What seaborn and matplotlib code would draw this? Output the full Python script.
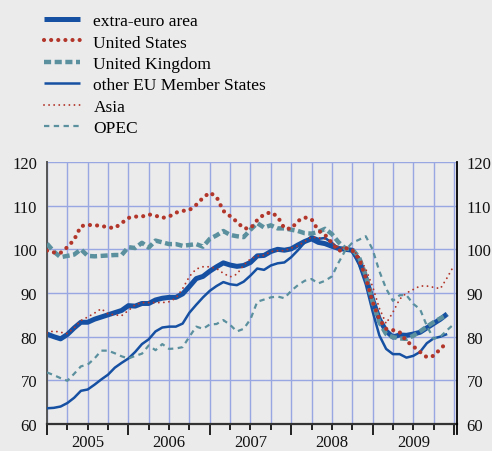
import matplotlib
matplotlib.use("Agg")
import matplotlib.pyplot as plt
import matplotlib.transforms as mtransforms
from matplotlib.ticker import MultipleLocator
import numpy as np
import pandas as pd
import seaborn as sns

# monthly index values, Jan 2005 onwards
extra_euro = [80.6, 80.0, 79.5, 80.5, 82.0, 83.3, 83.3, 84.0, 84.5, 85.0, 85.5, 86.0,
              87.1, 87.0, 87.6, 87.6, 88.4, 88.8, 89.0, 89.0, 89.8, 91.5, 93.3, 93.8,
              95.0, 96.0, 96.9, 96.4, 96.1, 96.3, 97.0, 98.5, 98.6, 99.5, 100.0, 99.8,
              100.1, 101.0, 101.8, 102.4, 101.6, 101.3, 100.7, 100.2, 100.0, 99.8, 97.5, 93.5,
              88.5, 84.0, 81.3, 79.9, 80.4, 80.3, 80.6, 81.0, 82.0, 83.0, 84.0, 85.2]
united_states = [99.7, 99.3, 99.2, 100.5, 102.2, 105.3, 105.6, 105.5, 105.4, 105.0, 104.9, 106.0,
                 107.2, 107.5, 107.5, 108.0, 107.7, 107.2, 107.5, 108.4, 108.8, 109.0, 110.2, 111.8,
                 113.0, 112.0, 108.8, 107.6, 106.3, 104.8, 104.8, 106.7, 108.0, 108.5, 107.5, 104.8,
                 104.7, 106.5, 107.3, 106.9, 104.3, 103.3, 101.5, 99.6, 100.3, 99.8, 97.8, 93.5,
                 88.0, 84.0, 81.8, 81.5, 81.0, 79.0, 77.8, 76.5, 75.3, 75.6, 77.2, 78.7]
united_kingdom = [101.3, 99.5, 98.2, 98.5, 98.8, 100.0, 98.5, 98.4, 98.5, 98.6, 98.7, 98.7,
                  100.5, 100.3, 101.5, 100.4, 102.0, 101.6, 101.2, 101.2, 100.8, 101.0, 101.2, 100.6,
                  102.4, 103.2, 104.2, 103.3, 103.0, 102.8, 104.5, 106.0, 105.0, 105.5, 104.8, 104.8,
                  104.5, 104.2, 103.7, 103.6, 104.0, 104.7, 103.5, 101.6, 100.2, 100.0, 98.2, 94.0,
                  88.0, 83.3, 80.6, 79.9, 79.6, 79.5, 80.2, 81.2, 82.3, 83.3, 84.2, 85.0]
other_eu = [63.6, 63.7, 64.0, 64.8, 66.0, 67.6, 67.9, 69.0, 70.2, 71.3, 72.9, 74.0,
            75.0, 76.5, 78.3, 79.4, 81.2, 82.1, 82.3, 82.3, 83.0, 85.5, 87.3, 89.0,
            90.5, 91.6, 92.5, 92.0, 91.8, 92.6, 94.0, 95.6, 95.3, 96.3, 96.8, 97.0,
            98.2, 99.8, 101.6, 103.0, 102.4, 102.6, 101.5, 100.1, 100.0, 99.5, 96.5, 92.0,
            85.8, 80.3, 77.2, 76.0, 76.0, 75.2, 75.6, 76.5, 78.5, 79.6, 80.0, 80.6]
asia = [80.9, 81.3, 81.0, 80.7, 82.0, 83.7, 84.5, 85.4, 86.4, 85.2, 85.0, 84.8,
        86.0, 87.3, 87.8, 87.8, 87.8, 87.8, 88.0, 88.8, 91.0, 93.8, 95.5, 96.0,
        96.0, 95.6, 94.5, 93.7, 94.3, 96.4, 97.8, 98.5, 98.6, 99.5, 99.7, 99.7,
        100.3, 100.8, 101.8, 102.8, 102.6, 102.4, 101.5, 100.5, 100.2, 100.1, 98.3, 95.5,
        91.5, 86.5, 83.0, 85.6, 88.6, 90.0, 90.8, 91.6, 91.6, 91.3, 91.0, 93.5, 96.3]
opec = [71.8, 71.2, 70.5, 69.9, 71.5, 73.2, 73.6, 75.0, 76.8, 76.8, 76.2, 75.5,
        75.0, 75.6, 76.1, 78.0, 76.9, 78.3, 77.2, 77.3, 77.6, 80.0, 82.3, 81.8,
        82.8, 82.9, 83.8, 82.7, 81.2, 81.8, 84.0, 88.0, 88.5, 89.0, 89.2, 88.8,
        90.5, 91.8, 92.8, 93.2, 92.2, 92.8, 93.8, 97.0, 99.8, 101.5, 102.2, 103.0,
        100.0, 95.0, 91.0, 88.2, 89.5, 89.5, 87.5, 86.3, 82.5, 79.5, 80.0, 81.5, 82.9]

years = ["2005", "2006", "2007", "2008", "2009"]
y_ticks = [60, 70, 80, 90, 100, 110, 120]

series = {
    "extra-euro area": extra_euro,
    "United States": united_states,
    "United Kingdom": united_kingdom,
    "other EU Member States": other_eu,
    "Asia": asia,
    "OPEC": opec,
}

dark_blue = "#1650a2"
red = "#b3362b"
teal = "#5b909e"
styles = {
    "extra-euro area": dict(color=dark_blue, lw=3.6, ls="-", z=2),
    "other EU Member States": dict(color=dark_blue, lw=1.8, ls="-", z=3),
    "United Kingdom": dict(color=teal, lw=3.2, ls=(0, (1.6, 0.8)), z=4),
    "OPEC": dict(color=teal, lw=1.6, ls=(0, (2.4, 2.0)), z=5),
    "United States": dict(color=red, lw=3.0, ls=(0, (0.01, 1.7)), z=6),
    "Asia": dict(color=red, lw=1.4, ls=(0, (0.01, 2.6)), z=7),
}

bg = "#ebebeb"
plt.rcParams["font.family"] = ["Liberation Serif", "DejaVu Serif"]

fig = plt.figure(figsize=(4.92, 4.52), dpi=100, facecolor=bg)
ax = fig.add_axes([47 / 492, 27 / 452, 410 / 492, 262 / 452])
ax.set_facecolor(bg)

handles = {}
for name, vals in series.items():
    st = styles[name]
    df = pd.DataFrame({"month": np.arange(len(vals)), "value": vals})
    sns.lineplot(data=df, x="month", y="value", ax=ax, color=st["color"],
                 linewidth=st["lw"], zorder=st["z"], label=name, legend=False)
    line = ax.get_lines()[-1]
    line.set_linestyle(st["ls"])
    line.set_dash_capstyle("round" if name in ("United States", "Asia") else "butt")
    line.set_solid_capstyle("butt")
    handles[name] = line

ax.set_xlim(0, 60.45)
ax.set_ylim(60, 120)
ax.set_xlabel("")
ax.set_ylabel("")

ax.xaxis.set_major_locator(MultipleLocator(12))
ax.xaxis.set_minor_locator(MultipleLocator(3))
ax.set_xticklabels([])
ax.set_yticks(y_ticks)
ax.grid(True, which="both", axis="x", color="#98a6e2", lw=1, zorder=0)
ax.grid(True, which="major", axis="y", color="#98a6e2", lw=1, zorder=0)
ax.set_axisbelow(True)

ax.tick_params(axis="x", which="major", direction="out", length=8, width=1.4, color="#222222")
ax.tick_params(axis="x", which="minor", direction="out", length=4.5, width=1.4, color="#222222")
ax.tick_params(axis="y", length=0, labelsize=12, labelleft=True, labelright=True,
               pad=7, colors="#111111")

for s in ["top", "right"]:
    ax.spines[s].set_visible(False)
ax.spines["left"].set_color("#555555")
ax.spines["left"].set_linewidth(1.4)
ax.spines["bottom"].set_color("#333333")
ax.spines["bottom"].set_linewidth(1.6)
ax.plot([1, 1], [-0.04, 1], transform=ax.transAxes, color="black", lw=1.3,
        clip_on=False, zorder=10)

# year labels sit just inside the bottom edge of the figure
trans = mtransforms.blended_transform_factory(ax.transData, ax.transAxes)
for i, yr in enumerate(years):
    ax.text(6 + 12 * i, -0.099, yr, transform=trans, ha="center", va="bottom",
            fontsize=12, color="#111111")

order = ["extra-euro area", "United States", "United Kingdom",
         "other EU Member States", "Asia", "OPEC"]
fig.legend([handles[n] for n in order], order, loc="upper left",
           bbox_to_anchor=(44 / 492, 1 - 14 / 452), frameon=False, fontsize=12.5,
           handlelength=2.1, handletextpad=0.75, labelspacing=0.3,
           borderpad=0, borderaxespad=0)

fig.savefig("out.png", dpi=100, facecolor=bg)
